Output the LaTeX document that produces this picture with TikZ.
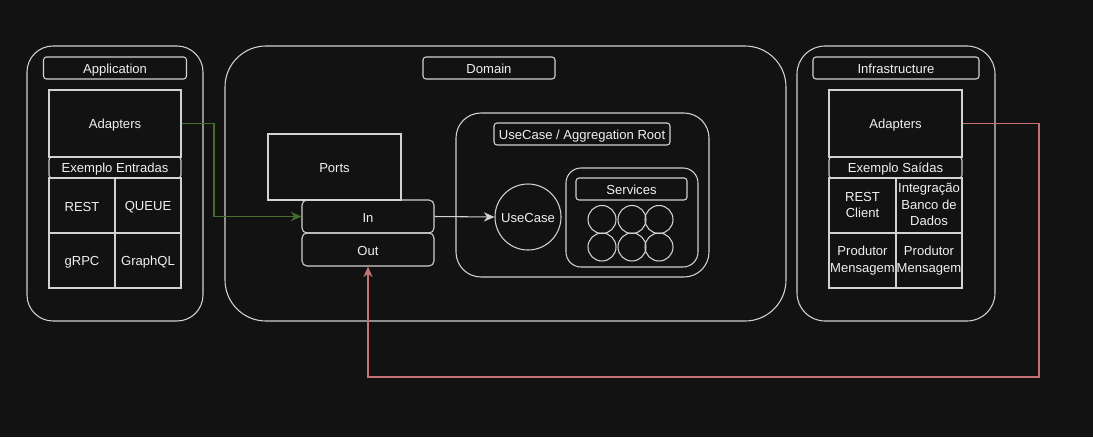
\documentclass[tikz,border=0pt]{standalone}
\usepackage{fontspec}
\setmainfont{Liberation Sans}
\usepackage{tikz}
\usetikzlibrary{arrows.meta}
\usetikzlibrary{positioning}

\definecolor{bgdark}{HTML}{121212}
\definecolor{linegray}{HTML}{D2D2D2}
\definecolor{textwhite}{HTML}{F0F0F0}
\definecolor{ingreen}{HTML}{446E30}
\definecolor{outred}{HTML}{C27474}

\newcommand{\boxstrut}{\rule[-1.4pt]{0pt}{11.4pt}}

\begin{document}
\begin{tikzpicture}[x=0.75pt, y=-0.75pt,
        font=\fontsize{9.8}{12.2}\selectfont,
        box/.style 2 args={draw=linegray, line width=0.8pt, text=textwhite, inner sep=0pt,
            minimum width=#1*0.75pt, minimum height=#2*0.75pt, align=center,
            execute at begin node=\boxstrut, execute at end node=\boxstrut},
        round/.style={rounded corners=#1*0.75pt},
        ball/.style={circle, draw=linegray, line width=0.8pt, text=textwhite, inner sep=0pt,
            minimum size=#1*0.75pt},
        link/.style={line width=0.8pt, -{Stealth[length=8pt, width=7pt]}}]
        % Background
        \fill[bgdark] (0,0) rectangle (1093,437);
        % Application side
        \node[box={176}{275}, round=26] (appbox) at (115,183.5) {};
        \node[box={143}{22}, round=3] (applabel) at (115,68) {Application};
        \node[box={132}{67}] (appadapt) at (115,123.5) {Adapters};
        \node[box={132}{21}, round=3] (appex) at (115,167.5) {Exemplo Entradas};
        \node[box={66}{55}] (rest) at (82,205.5) {REST};
        \node[box={66}{55}] (queue) at (148,205.5) {QUEUE};
        \node[box={66}{55}] (grpc) at (82,260.5) {gRPC};
        \node[box={66}{55}] (graphql) at (148,260.5) {GraphQL};
        % Domain
        \node[box={561}{275}, round=41] (dombox) at (505.5,183.5) {};
        \node[box={132}{22}, round=3] (domlabel) at (489,68) {Domain};
        \node[box={133}{66}] (ports) at (334.5,167) {Ports};
        \node[box={132}{33}, round=5] (portin) at (368,216.5) {In};
        \node[box={132}{33}, round=5] (portout) at (368,249.5) {Out};
        \node[box={253}{164}, round=25] (ucbox) at (582.5,195) {};
        \node[box={176}{22}, round=3] (uclabel) at (582,134) {UseCase / Aggregation Root};
        \node[ball=66] (usecase) at (528,217) {\boxstrut UseCase};
        \node[box={132}{99}, round=15] (svcbox) at (632,217.5) {};
        \node[box={111}{22}, round=3] (svclabel) at (631.5,189) {Services};
        % Services circles
        \foreach \col/\x in {1/602,2/632,3/659}{
            \foreach \row/\y in {1/219.5,2/247}{
                \node[ball=28] (svc\row\col) at (\x,\y) {};
            }
        }
        % Infrastructure side
        \node[box={198}{275}, round=28] (infbox) at (896,183.5) {};
        \node[box={166}{22}, round=3] (inflabel) at (896,68) {Infrastructure};
        \node[box={133}{67}] (infadapt) at (895.5,123.5) {Adapters};
        \node[box={133}{21}, round=3] (infex) at (895.5,167.5) {Exemplo Saídas};
        \node[box={67}{55}] (restclient) at (862.5,205.5) {REST\\Client};
        \node[box={66}{55}] (dbint) at (929,205.5) {Integração\\Banco de\\Dados};
        \node[box={67}{55}] (producer) at (862.5,260.5) {Produtor\\Mensagem};
        \node[box={66}{55}] (producertwo) at (929,260.5) {Produtor\\Mensagem};
        % Connectors
        \coordinate (inbend) at (214,123.5);
        \coordinate (outbend) at (1039,377);
        \draw[link, ingreen] (appadapt.east) -- (inbend) |- (portin.west);
        \draw[link, linegray] (portin.east) -- (usecase.west);
        \draw[link, outred] (infadapt.east) -| (outbend) -| (portout.south);
    \end{tikzpicture}
\end{document}
